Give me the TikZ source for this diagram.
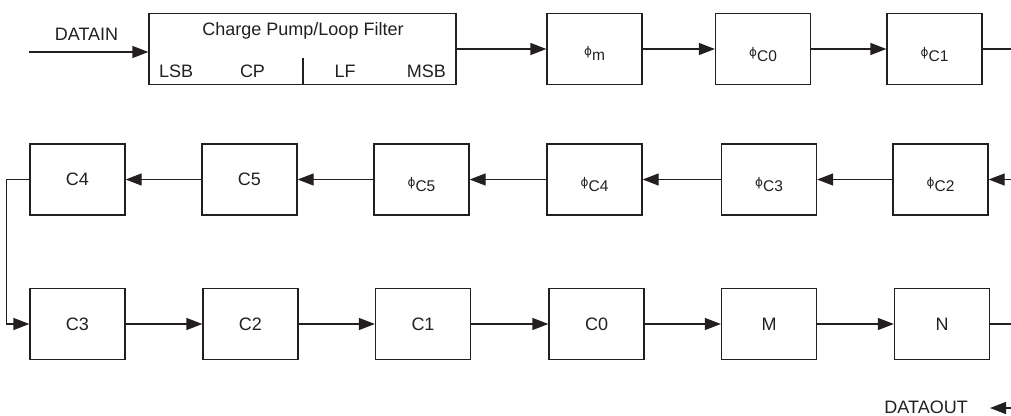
\documentclass[tikz,border=0pt]{standalone}
\usepackage{fontspec}
\setmainfont{Liberation Sans}
\newfontfamily\phifont{DejaVu Sans}
\usetikzlibrary{arrows.meta}
\definecolor{ink}{HTML}{231F20}
\newcommand\phl[1]{\raisebox{5pt}{\phifont\fontsize{12}{12}\selectfont ϕ}{\fontsize{15.5}{15.5}\selectfont #1}}
\begin{document}
\begin{tikzpicture}[x=1pt,y=-1pt,
  every node/.style={font=\fontsize{18}{20}\selectfont, text=ink},
  blk/.style={draw=ink, line width=1.3pt, minimum width=95pt, minimum height=71pt, inner sep=0pt},
  conn/.style={draw=ink, line width=1.3pt},
  arr/.style={conn, -{Triangle[length=16pt,width=12pt]}},
  lbl/.style={anchor=base, inner sep=0pt}]
\useasboundingbox (0,0) rectangle (1011,415);
% top row
\node[blk, minimum width=307pt] (cp) at (302.5,49) {};
\node[lbl] (cptitle) at (303,35) {Charge Pump/Loop Filter};
\node[lbl, anchor=base west] (lsb) at (159,77) {LSB};
\node[lbl] (cpl) at (252.5,77) {CP};
\node[lbl] (lfl) at (345,77) {LF};
\node[lbl, anchor=base east] (msb) at (446,77) {MSB};
\coordinate (divtop) at (303,58);
\draw[conn] (divtop) -- (divtop |- cp.south);
\node[blk] (pm) at (594.5,49) {};
\node[lbl] (pml) at ([yshift=-11pt]pm.center) {\phl{m}};
\node[blk] (pc0) at (763,49) {};
\node[lbl] (pc0l) at ([yshift=-12pt]pc0.center) {\phl{C0}};
\node[blk] (pc1) at (934.5,49) {};
\node[lbl] (pc1l) at ([yshift=-12pt]pc1.center) {\phl{C1}};
% middle row
\node[blk] (c4) at (77.5,179.5) {C4};
\node[blk] (c5) at (249.5,179.5) {C5};
\node[blk] (pc5) at (421.5,179.5) {};
\node[lbl] (pc5l) at ([yshift=-12pt]pc5.center) {\phl{C5}};
\node[blk] (pc4) at (594.5,179.5) {};
\node[lbl] (pc4l) at ([yshift=-12pt]pc4.center) {\phl{C4}};
\node[blk] (pc3) at (769,179.5) {};
\node[lbl] (pc3l) at ([yshift=-12pt]pc3.center) {\phl{C3}};
\node[blk] (pc2) at (940.5,179.5) {};
\node[lbl] (pc2l) at ([yshift=-12pt]pc2.center) {\phl{C2}};
% bottom row
\node[blk] (c3) at (77.5,324) {C3};
\node[blk] (c2) at (250.5,324) {C2};
\node[blk] (c1) at (423,324) {C1};
\node[blk] (c0) at (596.5,324) {C0};
\node[blk] (m) at (769,324) {M};
\node[blk] (n) at (942,324) {N};
% labels
\node[lbl] (datain) at (86.5,40.5) {DATAIN};
\node[lbl, anchor=base east] (dataout) at (968,413) {DATAOUT};
% free ends
\coordinate (din) at (29,52);
\coordinate (topout) at (1011,49);
\coordinate (midin) at (1011,179.5);
\coordinate (botout) at (1011,324);
\coordinate (doutA) at (1011,408);
\coordinate (doutB) at (990,408);
% connectors
\draw[arr] (din) -- (din -| cp.west);
\draw[arr] (cp.east |- pm.west) -- (pm.west);
\draw[arr] (pm.east) -- (pc0.west);
\draw[arr] (pc0.east) -- (pc1.west);
\draw[conn] (pc1.east) -- (topout);
\draw[arr] (midin) -- (pc2.east);
\draw[arr] (pc2.west) -- (pc3.east);
\draw[arr] (pc3.west) -- (pc4.east);
\draw[arr] (pc4.west) -- (pc5.east);
\draw[arr] (pc5.west) -- (c5.east);
\draw[arr] (c5.west) -- (c4.east);
\draw[arr] (c4.west) -- ++(-23,0) |- (c3.west);
\draw[arr] (c3.east) -- (c2.west);
\draw[arr] (c2.east) -- (c1.west);
\draw[arr] (c1.east) -- (c0.west);
\draw[arr] (c0.east) -- (m.west);
\draw[arr] (m.east) -- (n.west);
\draw[conn] (n.east) -- (botout);
\draw[arr] (doutA) -- (doutB);
\end{tikzpicture}
\end{document}
